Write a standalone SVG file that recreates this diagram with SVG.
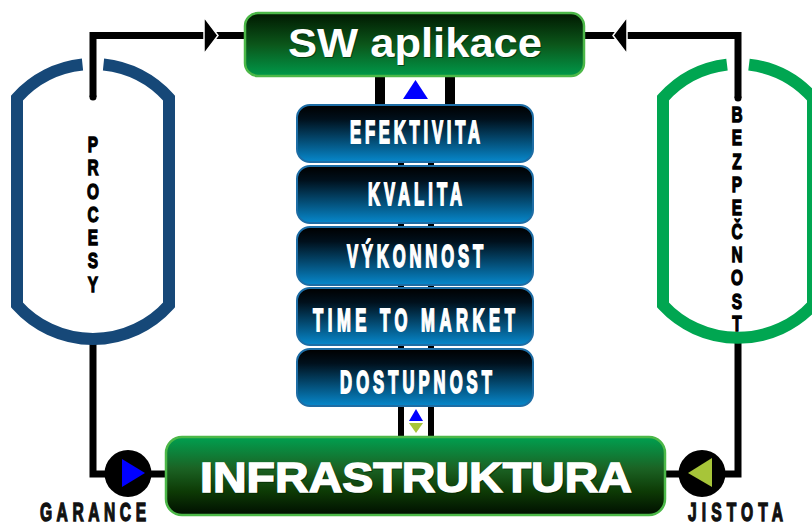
<svg xmlns="http://www.w3.org/2000/svg" width="812" height="528" viewBox="0 0 812 528">
<defs>
<linearGradient id="gSw" x1="0" y1="0" x2="0" y2="1">
<stop offset="0" stop-color="#001800"/><stop offset="0.5" stop-color="#0b561a"/><stop offset="1" stop-color="#00994a"/>
</linearGradient>
<linearGradient id="gInfra" x1="0" y1="0" x2="0" y2="1">
<stop offset="0" stop-color="#00a050"/><stop offset="0.4" stop-color="#1b6324"/><stop offset="0.7" stop-color="#0d3a05"/><stop offset="1" stop-color="#000e00"/>
</linearGradient>
<linearGradient id="gBlue" x1="0" y1="0" x2="0" y2="1">
<stop offset="0" stop-color="#000000"/><stop offset="0.25" stop-color="#00101c"/><stop offset="1" stop-color="#0788cc"/>
</linearGradient>
<style>
.ln{fill:none;stroke:#000;stroke-width:7;stroke-linejoin:miter}
.bbox{fill:url(#gBlue);stroke:#1d6da5;stroke-width:2}
.btxt{font-family:"Liberation Sans",Arial,sans-serif;font-weight:bold;font-size:32px;fill:#fff;stroke:#fff;stroke-width:1.8;text-anchor:middle}
.vt{font-family:"Liberation Sans",Arial,sans-serif;font-weight:bold;font-size:22px;fill:#000;stroke:#000;stroke-width:1.3;text-anchor:middle}
.lbl{font-family:"Liberation Sans",Arial,sans-serif;font-weight:bold;font-size:26px;fill:#111;stroke:#111;stroke-width:1.4;text-anchor:middle}
.gbox{stroke:#4cb848;stroke-width:2.5}
.gtxt{font-family:"Liberation Sans",Arial,sans-serif;font-weight:bold;fill:#fff;text-anchor:middle}
.gsh{font-family:"Liberation Sans",Arial,sans-serif;font-weight:bold;fill:#002200;text-anchor:middle;opacity:0.6}
</style>
</defs>

<g id="connectors">
<path class="ln" d="M93,97 V35.5 H245"/>
<circle cx="93" cy="97" r="3.5" fill="#000"/>
<path class="ln" d="M738,98 V35.5 H584"/>
<circle cx="738" cy="98" r="3.5" fill="#000"/>
<polygon points="204,17 218,35.5 204,54" fill="#000" stroke="#fff" stroke-width="1.5"/>
<polygon points="627,17 613,35.5 627,54" fill="#000" stroke="#fff" stroke-width="1.5"/>
<path class="ln" d="M93,340 V474 H168"/>
<path class="ln" d="M738,340 V474 H662"/>
<line x1="380" y1="74" x2="380" y2="107" stroke="#000" stroke-width="10"/>
<line x1="450" y1="74" x2="450" y2="107" stroke="#000" stroke-width="10"/>
<polygon points="403,99 428,99 415.5,80" fill="#0000ff"/>
<line x1="401" y1="150" x2="401" y2="439" stroke="#000" stroke-width="6"/>
<line x1="431" y1="150" x2="431" y2="439" stroke="#000" stroke-width="6"/>
<polygon points="409,421 423,421 416,409" fill="#0000ff"/>
<polygon points="409,423 423,423 416,433" fill="#a7c539"/>
</g>

<g id="procesy">
<path d="M82.5,64.5 A102,102 0 0 0 17,98 V305 A102,102 0 0 0 169,305 V98 A102,102 0 0 0 103.5,64.5" fill="none" stroke="#164878" stroke-width="12"/>
<g transform="translate(93,0) scale(0.7,1)">
<text class="vt" x="0" y="152">P</text>
<text class="vt" x="0" y="175.3">R</text>
<text class="vt" x="0" y="198.6">O</text>
<text class="vt" x="0" y="222">C</text>
<text class="vt" x="0" y="245.2">E</text>
<text class="vt" x="0" y="268.5">S</text>
<text class="vt" x="0" y="291.8">Y</text>
</g>
</g>

<g id="bezpecnost">
<path d="M727,64.6 A102,102 0 0 0 663,98 V305 A102,102 0 0 0 813,305 V98 A102,102 0 0 0 749,64.6" fill="none" stroke="#00a651" stroke-width="12"/>
<g transform="translate(737,0) scale(0.7,1)">
<text class="vt" x="0" y="122">B</text>
<text class="vt" x="0" y="145.3">E</text>
<text class="vt" x="0" y="168.7">Z</text>
<text class="vt" x="0" y="192">P</text>
<text class="vt" x="0" y="215.3">E</text>
<text class="vt" x="0" y="238.7">Č</text>
<text class="vt" x="0" y="262">N</text>
<text class="vt" x="0" y="285.3">O</text>
<text class="vt" x="0" y="308.7">S</text>
<text class="vt" x="0" y="331.5">T</text>
</g>
</g>

<g id="sw-aplikace">
<rect class="gbox" x="245" y="13" width="339" height="63" rx="13" fill="url(#gSw)"/>
<text class="gsh" x="416" y="58" font-size="41" textLength="254" lengthAdjust="spacingAndGlyphs">SW aplikace</text>
<text class="gtxt" x="415" y="57" font-size="41" textLength="254" lengthAdjust="spacingAndGlyphs">SW aplikace</text>
</g>

<g id="efektivita">
<rect class="bbox" x="297" y="105" width="236" height="57" rx="13"/>
<text class="btxt" transform="translate(415,0) scale(0.52,1)" x="0" y="143" textLength="250" lengthAdjust="spacing">EFEKTIVITA</text>
</g>
<g id="kvalita">
<rect class="bbox" x="297" y="166" width="236" height="57" rx="13"/>
<text class="btxt" transform="translate(415,0) scale(0.52,1)" x="0" y="205" textLength="181" lengthAdjust="spacing">KVALITA</text>
</g>
<g id="vykonnost">
<rect class="bbox" x="297" y="227" width="236" height="58" rx="13"/>
<text class="btxt" transform="translate(415,0) scale(0.52,1)" x="0" y="267" textLength="262" lengthAdjust="spacing">VÝKONNOST</text>
</g>
<g id="time-to-market">
<rect class="bbox" x="297" y="288" width="236" height="57" rx="13"/>
<text class="btxt" transform="translate(414,0) scale(0.52,1)" x="0" y="331" textLength="388" lengthAdjust="spacing">TIME TO MARKET</text>
</g>
<g id="dostupnost">
<rect class="bbox" x="297" y="349" width="236" height="57" rx="13"/>
<text class="btxt" transform="translate(416,0) scale(0.52,1)" x="0" y="393" textLength="292" lengthAdjust="spacing">DOSTUPNOST</text>
</g>

<g id="infrastruktura">
<rect class="gbox" x="166" y="437" width="499" height="78" rx="16" fill="url(#gInfra)"/>
<text class="gsh" x="417" y="493" font-size="42" textLength="432" lengthAdjust="spacingAndGlyphs" stroke="#002200" stroke-width="1.4">INFRASTRUKTURA</text>
<text class="gtxt" x="416" y="492" font-size="42" textLength="432" lengthAdjust="spacingAndGlyphs" stroke="#fff" stroke-width="1.4">INFRASTRUKTURA</text>
</g>

<g id="garance">
<circle cx="128" cy="473.5" r="23.5" fill="#000"/>
<polygon points="122,459 145,473 122,487" fill="#0000ff"/>
<text class="lbl" transform="translate(93,0) scale(0.6,1)" x="0" y="521.5" textLength="177" lengthAdjust="spacing">GARANCE</text>
</g>

<g id="jistota">
<circle cx="702" cy="473.5" r="23.5" fill="#000"/>
<polygon points="712,458 688,473 712,487" fill="#a7c539"/>
<text class="lbl" transform="translate(735.5,0) scale(0.6,1)" x="0" y="521.5" textLength="158" lengthAdjust="spacing">JISTOTA</text>
</g>
</svg>
